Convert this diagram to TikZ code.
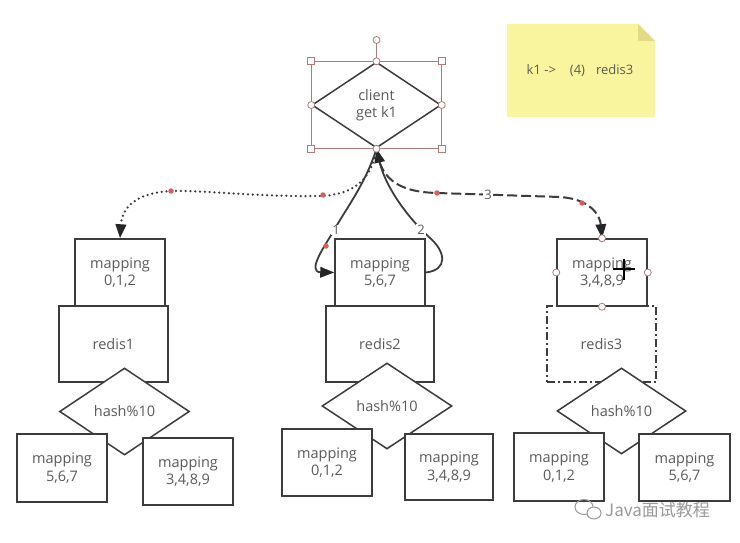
\documentclass[tikz,border=0pt]{standalone}
\usepackage{fontspec}
\setmainfont{Open Sans}
\newfontfamily\cjkfont{Noto Sans CJK SC}
\usetikzlibrary{shapes.geometric,arrows.meta}
\definecolor{edge}{HTML}{3C3C3C}
\definecolor{txt}{HTML}{5A5A5A}
\definecolor{sel}{HTML}{B07A7A}
\definecolor{note}{HTML}{F9F59E}
\definecolor{notefold}{HTML}{E2DB85}
\definecolor{reddot}{HTML}{D95F5A}
\definecolor{wmgray}{HTML}{9A9A9A}
\begin{document}
\begin{tikzpicture}[x=1pt,y=-1pt,
  box/.style={draw=edge, line width=1.5pt, fill=white, inner sep=0pt, text=txt, align=center,
    font=\fontsize{14.5}{17.5}\selectfont},
  hashd/.style={diamond, draw=edge, line width=1.5pt, fill=white, inner sep=0pt, text=txt,
    font=\fontsize{14.5}{17.5}\selectfont, align=center},
  conn/.style={draw=edge, line width=1.8pt},
  bigtip/.style={-{Triangle[length=14pt,width=10.5pt,color=black!85]}},
  num/.style={fill=white, inner sep=0.8pt, text=txt, font=\fontsize{13}{13}\selectfont},
  handc/.style={circle, draw=sel, fill=white, inner sep=0pt, minimum size=7pt, line width=0.8pt},
  hands/.style={rectangle, draw=sel, fill=white, inner sep=0pt, minimum size=7pt, line width=0.8pt},
  rdot/.style={circle, fill=reddot, inner sep=0pt, minimum size=5.5pt}
]
\useasboundingbox[fill=white] (0,0) rectangle (740,543);

% sticky note
\fill[note] (507,24) -- (638,24) -- (655,41) -- (655,117) -- (507,117) -- cycle;
\fill[notefold] (638,24) -- (655,41) -- (638,41) -- cycle;
\node[text=txt, font=\fontsize{13}{13}\selectfont] (notetext) at (580,71) {k1 ->\hspace{14pt}(4)\hspace{11pt}redis3};

% client diamond
\node[hashd, minimum width=129pt, minimum height=86pt] (client) at (376.5,105) {client\\get k1};

% left stack
\node[box, minimum width=109pt, minimum height=76pt] (r1) at (113.5,344) {redis1};
\node[box, minimum width=90pt, minimum height=67pt] (mp1) at (120,272.5) {mapping\\0,1,2};
\node[hashd, minimum width=130pt, minimum height=87pt] (d1) at (124.5,411.5) {hash\%10};
\node[box, minimum width=90pt, minimum height=68pt] (b1l) at (62,468) {mapping\\5,6,7};
\node[box, minimum width=90pt, minimum height=67pt] (b1r) at (188,471.5) {mapping\\3,4,8,9};

% middle stack
\node[box, minimum width=108pt, minimum height=76pt] (r2) at (380,344) {redis2};
\node[box, minimum width=90pt, minimum height=67pt] (mp2) at (380,272.5) {mapping\\5,6,7};
\node[hashd, minimum width=130pt, minimum height=86pt] (d2) at (387,406) {hash\%10};
\node[box, minimum width=90pt, minimum height=67pt] (b2l) at (327,462.5) {mapping\\0,1,2};
\node[box, minimum width=88pt, minimum height=66pt] (b2r) at (449,467) {mapping\\3,4,8,9};

% right stack
\node[box, minimum width=109pt, minimum height=76pt, dash pattern=on 8pt off 3pt on 2pt off 3pt] (r3) at (601.5,344) {redis3};
\node[box, minimum width=90pt, minimum height=67pt] (mp3) at (602,272.5) {mapping\\3,4,8,9};
\node[hashd, minimum width=129pt, minimum height=86pt] (d3) at (621.5,411) {hash\%10};
\node[box, minimum width=90pt, minimum height=68pt] (b3l) at (559,467) {mapping\\0,1,2};
\node[box, minimum width=91pt, minimum height=67pt] (b3r) at (684.5,467.5) {mapping\\5,6,7};

% connectors
\draw[conn, line width=2.5pt, dash pattern=on 0pt off 4.8pt, line cap=round, bigtip]
  (client.south) .. controls (372,178) and (355,195) .. (320,196)
  .. controls (260,197) and (200,190) .. (171,191)
  .. controls (135,193) and (122,208) .. (mp1.north);
\draw[conn, line width=2pt, dash pattern=on 10pt off 4pt, bigtip]
  (client.south) .. controls (380,176) and (395,192) .. (437,193)
  -- (560,197) .. controls (590,199) and (600,215) .. (mp3.north);
\draw[conn, bigtip]
  (client.south) .. controls (365,185) and (345,210) .. (333,232)
  .. controls (326,244) and (306,272) .. (mp2.west);
\draw[conn, bigtip]
  (mp2.east) .. controls (448,270) and (446,252) .. (430,238)
  .. controls (405,215) and (385,185) .. (client.south);
\node[num] (n1) at (336,230) {1};
\node[num] (n2) at (421,230) {2};
\node[num] (n3) at (488,194.5) {3};

% editor waypoint dots
\node[rdot] (p1) at (171,191) {};
\node[rdot] (p2) at (323,195) {};
\node[rdot] (p3) at (437,193) {};
\node[rdot] (p4) at (582,203) {};
\node[rdot] (p5) at (326,246) {};

% selection frame on client
\draw[sel, line width=0.7pt] (client.west |- client.north) rectangle (client.east |- client.south);
\node[handc] (rot) at (376.5,40) {};
\draw[sel, line width=0.8pt] (rot) -- (client.north);
\node[hands] (s1) at (client.west |- client.north) {};
\node[hands] (s2) at (client.east |- client.north) {};
\node[hands] (s3) at (client.west |- client.south) {};
\node[hands] (s4) at (client.east |- client.south) {};
\node[handc] (h1) at (client.north) {};
\node[handc] (h2) at (client.south) {};
\node[handc] (h3) at (client.west) {};
\node[handc] (h4) at (client.east) {};

% selection handles on mapping 3,4,8,9
\node[handc] (m1) at (mp3.north) {};
\node[handc] (m2) at (mp3.south) {};
\node[handc] (m3) at (mp3.west) {};
\node[handc] (m4) at (mp3.east) {};

% cursor
\draw[black, line width=2pt] (613,269) -- (635,269);
\draw[black, line width=2pt] (624,259) -- (624,280);

% watermark
\draw[wmgray, line width=1pt] (584,507) ellipse [x radius=9pt, y radius=7.5pt];
\fill[white] (594,513) ellipse [x radius=7.5pt, y radius=6.5pt];
\draw[wmgray, line width=1pt] (594,513) ellipse [x radius=7pt, y radius=6pt];
\node[text=wmgray, font=\cjkfont\fontsize{17}{17}\selectfont, anchor=west, inner sep=0pt] (wm) at (605,510) {Java面试教程};
\end{tikzpicture}
\end{document}
